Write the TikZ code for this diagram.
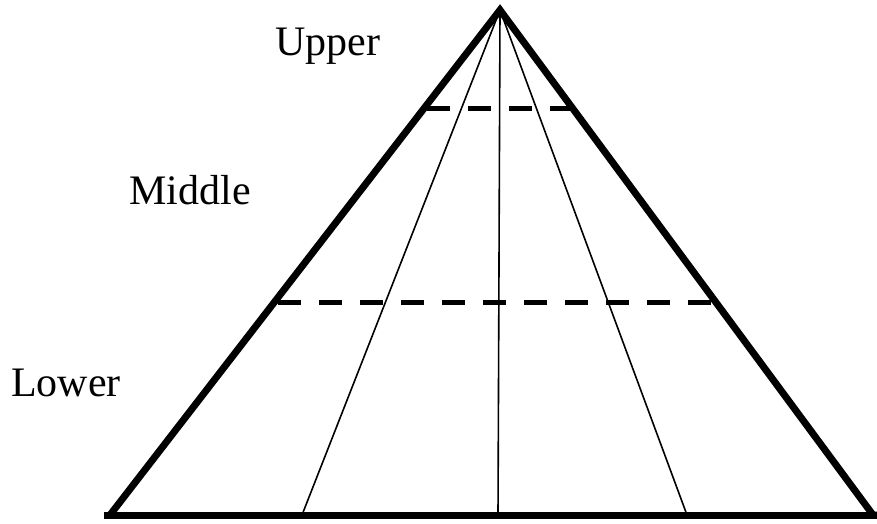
\documentclass[tikz,border=0pt]{standalone}
\usepackage{fontspec}
\setmainfont{Liberation Serif}
\begin{document}
\begin{tikzpicture}[x=1pt,y=-1pt,
    edge/.style={line width=7pt},
    ray/.style={line width=1.6pt},
    level/.style={line width=5pt,dash pattern=on 23pt off 18pt},
    lbl/.style={font=\fontsize{42}{50}\selectfont}]
                    \useasboundingbox (0,0) rectangle (877,523);
                    \coordinate (apex) at (500,10);
                    \coordinate (bl) at (110,515);
                    \coordinate (br) at (873,515);
                    % rays from the top
                    \draw[ray] (apex) -- (302,515);
                    \draw[ray] (apex) -- (498,515);
                    \draw[ray] (apex) -- (687,515);
                    % level borders
                    \draw[level] (427,108) -- (572,108);
                    \draw[level] (278,302) -- (712,302);
                    % outline
                    \draw[edge] (108,515) -- (bl) -- (apex) -- (br) -- (877,515);
                    \draw[edge] (104,515) -- (877,515);
                    \node[lbl] (upper) at (328,46) {Upper};
                    \node[lbl] (middle) at (190,190) {Middle};
                    \node[lbl] (lower) at (66,383) {Lower};
                \end{tikzpicture}
\end{document}
